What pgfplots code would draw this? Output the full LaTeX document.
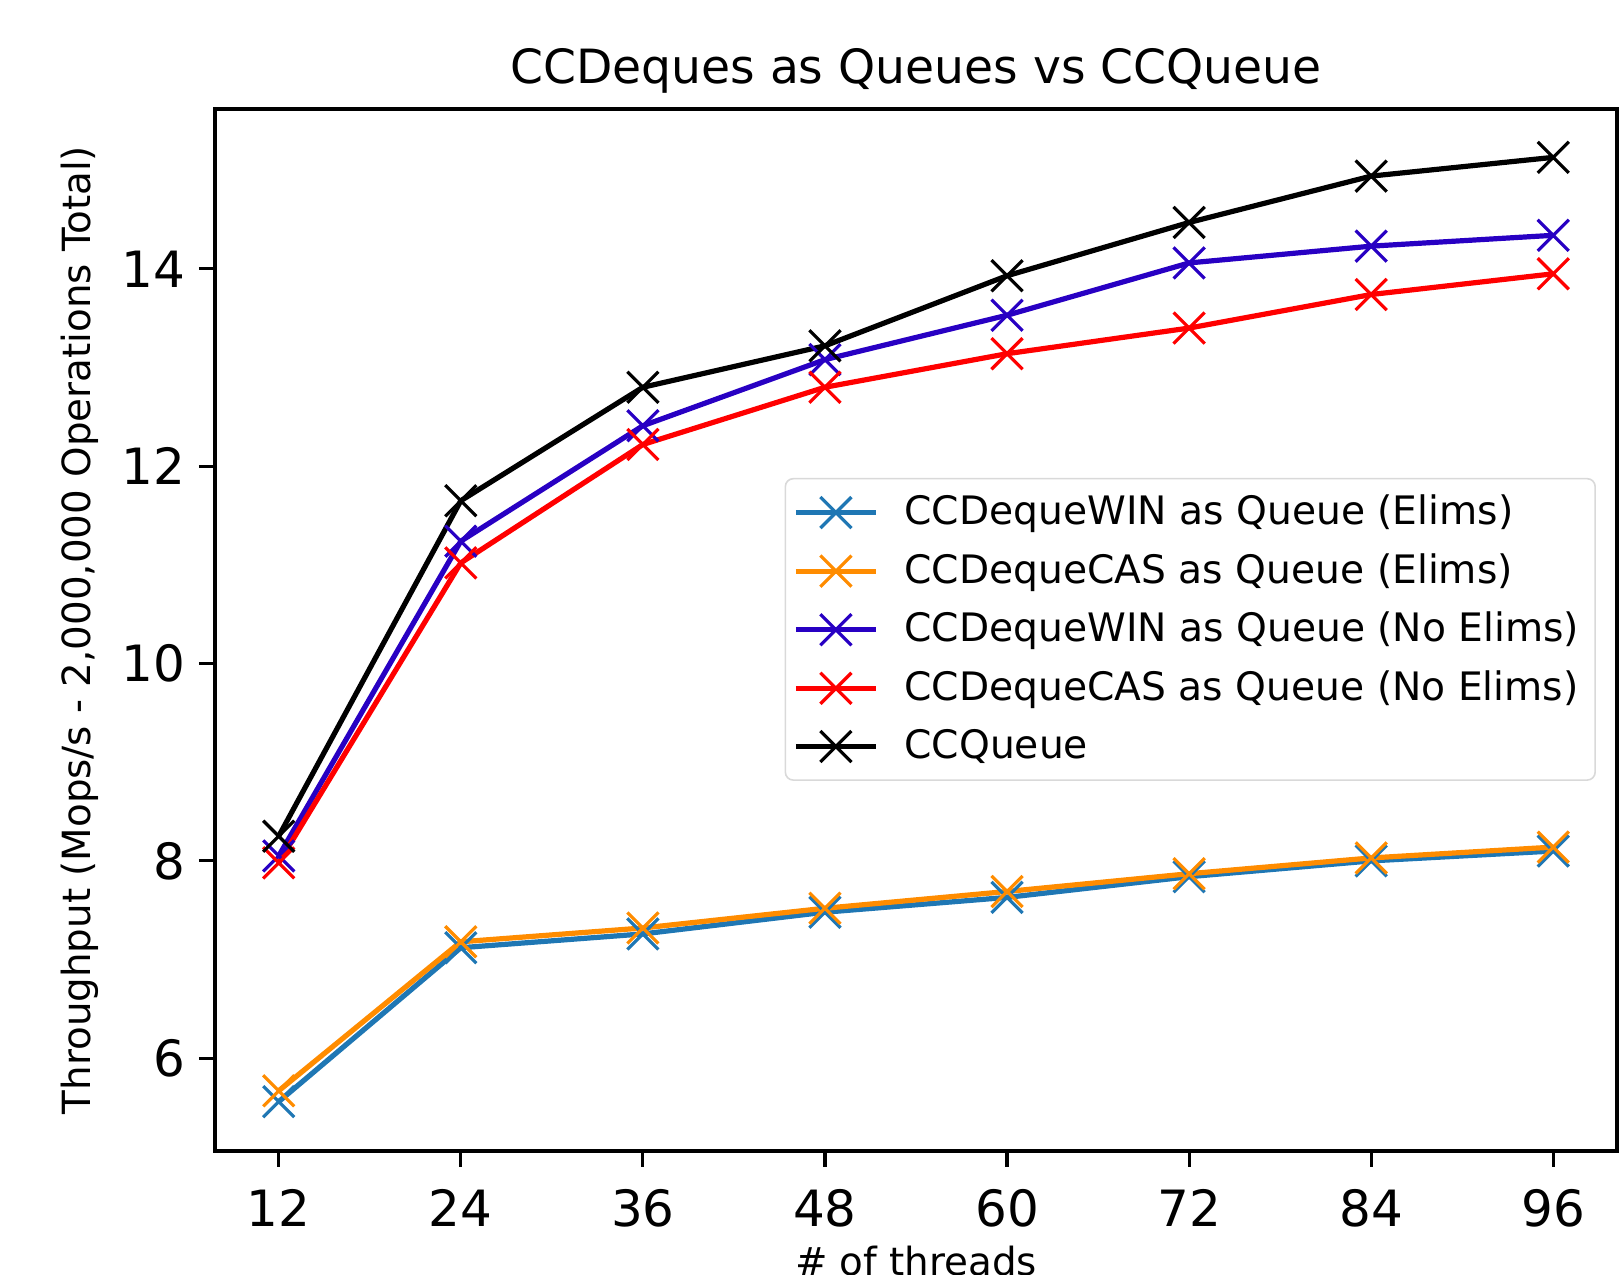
\documentclass[border=0pt]{standalone}
\usepackage{fontspec}
\setmainfont{DejaVu Sans}
\usepackage{pgfplots}
\pgfplotsset{compat=1.18}

\definecolor{mplblue}{HTML}{1F77B4}
\definecolor{mplorange}{HTML}{FF8C00}
\definecolor{winpurple}{RGB}{40,0,195}
\definecolor{casred}{RGB}{255,0,0}

\begin{document}
\begin{tikzpicture}
\begin{axis}[
  at={(0pt,0pt)}, anchor=south west,
  scale only axis,
  width=350.5pt, height=260.5pt,
  xmin=7.8, xmax=100.2,
  ymin=5.06, ymax=15.62,
  xtick={12,24,36,48,60,72,84,96},
  ytick={6,8,10,12,14},
  xtick pos=bottom, ytick pos=left,
  tick align=outside,
  major tick length=4pt,
  tick style={black, line width=0.8pt},
  axis line style={line width=0.8pt},
  /pgf/number format/assume math mode=true,
  ticklabel style={font=\fontsize{12.5}{14}\selectfont},
  xticklabel style={yshift=-2pt},
  every axis title shift=0pt,
  title={CCDeques as Queues vs CCQueue},
  title style={font=\fontsize{11.8}{14}\selectfont, at={(axis description cs:0.5,1.037)}, anchor=center},
  xlabel={\# of threads},
  xlabel style={font=\fontsize{9.7}{12}\selectfont, at={(axis description cs:0.5,-0.106)}, anchor=center},
  ylabel={Throughput (Mops/s - 2,000,000 Operations Total)},
  ylabel style={font=\fontsize{9.7}{12}\selectfont, at={(axis description cs:-0.0963,0.5)}, anchor=center, rotate=0},
  legend style={font=\fontsize{9.8}{12}\selectfont, at={(axis description cs:0.985,0.646)}, anchor=north east,
    draw=black!15, rounded corners=2pt, fill=white, fill opacity=0.8, text opacity=1,
    inner xsep=2pt, inner ysep=2pt, row sep=1.7pt},
  legend cell align=left,
  legend image code/.code={%
    \draw[mark repeat=2, mark phase=2] plot coordinates {(0pt,0pt) (10pt,0pt) (20pt,0pt)};
    \path (24.5pt,0pt);},
  every axis plot/.append style={line width=1.3pt, mark=x, mark size=5.5pt, mark options={line width=0.8pt}},
]
\addplot[color=mplblue] coordinates {
  (12,5.56) (24,7.12) (36,7.26) (48,7.48) (60,7.63) (72,7.84) (84,8.00) (96,8.10)
};
\addlegendentry{CCDequeWIN as Queue (Elims)}
\addplot[color=mplorange] coordinates {
  (12,5.67) (24,7.18) (36,7.32) (48,7.52) (60,7.69) (72,7.87) (84,8.03) (96,8.14)
};
\addlegendentry{CCDequeCAS as Queue (Elims)}
\addplot[color=winpurple] coordinates {
  (12,8.05) (24,11.24) (36,12.41) (48,13.08) (60,13.53) (72,14.06) (84,14.23) (96,14.34)
};
\addlegendentry{CCDequeWIN as Queue (No Elims)}
\addplot[color=casred] coordinates {
  (12,7.98) (24,11.02) (36,12.22) (48,12.80) (60,13.14) (72,13.40) (84,13.74) (96,13.95)
};
\addlegendentry{CCDequeCAS as Queue (No Elims)}
\addplot[color=black] coordinates {
  (12,8.25) (24,11.65) (36,12.80) (48,13.22) (60,13.93) (72,14.47) (84,14.94) (96,15.13)
};
\addlegendentry{CCQueue}
\end{axis}
\pgfresetboundingbox
\path[use as bounding box] (-53.75pt,-31pt) rectangle (351.75pt,287.75pt);
\end{tikzpicture}
\end{document}
